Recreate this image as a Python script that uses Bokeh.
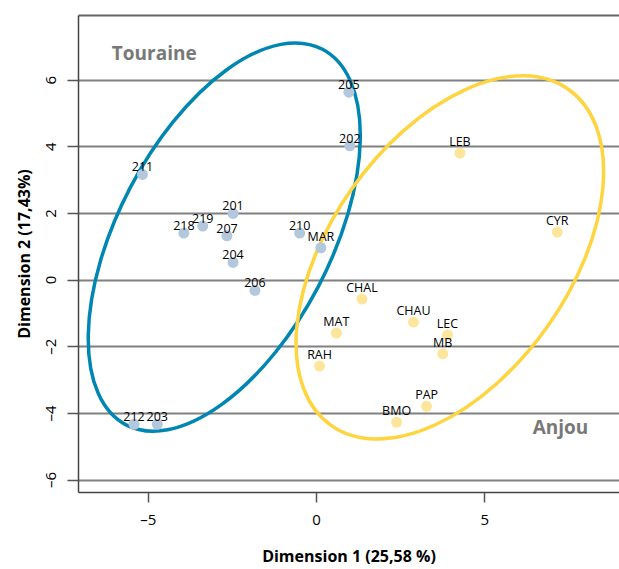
from bokeh.plotting import figure
from bokeh.models import ColumnDataSource, Range1d, LinearAxis, FixedTicker
from bokeh.core.properties import value
from bokeh.embed import file_html
from bokeh.resources import INLINE

# Touraine group
t_labels = ["205", "202", "211", "201", "219", "218", "207", "210", "MAR", "204", "206", "212", "203"]
t_x = [0.96, 0.99, -5.17, -2.48, -3.38, -3.94, -2.66, -0.50, 0.13, -2.48, -1.83, -5.42, -4.73]
t_y = [5.64, 4.03, 3.17, 2.00, 1.62, 1.41, 1.33, 1.41, 0.97, 0.53, -0.31, -4.33, -4.33]

# Anjou group
a_labels = ["LEB", "CYR", "CHAL", "MAT", "CHAU", "LEC", "MB", "RAH", "PAP", "BMO"]
a_x = [4.26, 7.15, 1.35, 0.59, 2.88, 3.89, 3.75, 0.09, 3.27, 2.38]
a_y = [3.81, 1.44, -0.57, -1.59, -1.26, -1.65, -2.21, -2.58, -3.79, -4.27]

# confidence ellipses: centre x, centre y, width, height, angle (rad)
ell_names = ["Touraine", "Anjou"]
ell_cx = [-2.74, 3.96]
ell_cy = [1.29, 0.68]
ell_w = [12.59, 12.22]
ell_h = [6.38, 7.18]
ell_angle = [1.089, 0.955]

x_ticks = [-5, 0, 5]
y_ticks = [-6, -4, -2, 0, 2, 4, 6]

FONT = "Open Sans"

p = figure(width=619, height=569, output_backend="svg", toolbar_location=None,
           x_range=Range1d(-7.07, 9.0), y_range=Range1d(-6.375, 7.94),
           min_border_left=78, min_border_right=0, min_border_top=15, min_border_bottom=77,
           x_axis_label="Dimension 1 (25,58 %)", y_axis_label="Dimension 2 (17,43%)")
p.outline_line_color = None
p.background_fill_color = "white"

p.xgrid.visible = False
p.ygrid.ticker = FixedTicker(ticks=y_ticks)
p.ygrid.grid_line_color = "#808080"
p.ygrid.grid_line_width = 2

def minus(v):
    return ("\u2013" + str(-v)) if v < 0 else str(v)

for ax, ticks in ((p.xaxis[0], x_ticks), (p.yaxis[0], y_ticks)):
    ax.ticker = FixedTicker(ticks=ticks)
    ax.major_label_overrides = {t: minus(t) for t in ticks}
    ax.minor_tick_line_color = None
    ax.major_tick_in = 0
    ax.major_tick_line_color = "#555555"
    ax.major_tick_line_width = 1.5
    ax.axis_line_color = "#444444"
    ax.axis_line_width = 1.5
    ax.major_label_text_font = FONT
    ax.major_label_text_font_size = "15px"
    ax.major_label_text_color = "black"
    ax.axis_label_text_font = FONT
    ax.axis_label_text_font_size = "16px"
    ax.axis_label_text_font_style = "bold"
    ax.axis_label_text_color = "black"

p.xaxis.major_tick_out = 10
p.xaxis.major_label_standoff = 6
p.xaxis.axis_label_standoff = 13
p.yaxis.major_tick_out = 11
p.yaxis.major_label_standoff = 7
p.yaxis.major_label_orientation = "parallel"
p.yaxis.axis_label_standoff = 3

top = LinearAxis(ticker=FixedTicker(ticks=[]), axis_line_color="#666666", axis_line_width=2,
                 major_tick_line_color=None, minor_tick_line_color=None)
p.add_layout(top, "above")

ell = ColumnDataSource(dict(x=ell_cx, y=ell_cy, w=ell_w, h=ell_h, a=ell_angle,
                            c=["#0086b3", "#fed43f"]))
p.ellipse(x="x", y="y", width="w", height="h", angle="a", source=ell,
          fill_color=None, line_color="c", line_width=3.5)

ts = ColumnDataSource(dict(x=t_x, y=t_y, t=t_labels))
as_ = ColumnDataSource(dict(x=a_x, y=a_y, t=a_labels))
p.scatter("x", "y", source=ts, size=11, fill_color="#b3c8dc", line_color=None)
p.scatter("x", "y", source=as_, size=11, fill_color="#fde59c", line_color=None)

for src in (ts, as_):
    p.text("x", "y", text="t", source=src, text_font=value(FONT), text_font_size="12.5px",
           text_color="black", text_align="center", text_baseline="bottom", y_offset=-3)

grp = ColumnDataSource(dict(x=[-6.08, 6.42], y=[6.81, -4.41], t=ell_names))
p.text("x", "y", text="t", source=grp, text_font=value(FONT), text_font_size="19px",
       text_font_style="bold", text_color="#787878", text_align="left", text_baseline="middle")

open("out.html", "w").write(file_html(p, INLINE))
